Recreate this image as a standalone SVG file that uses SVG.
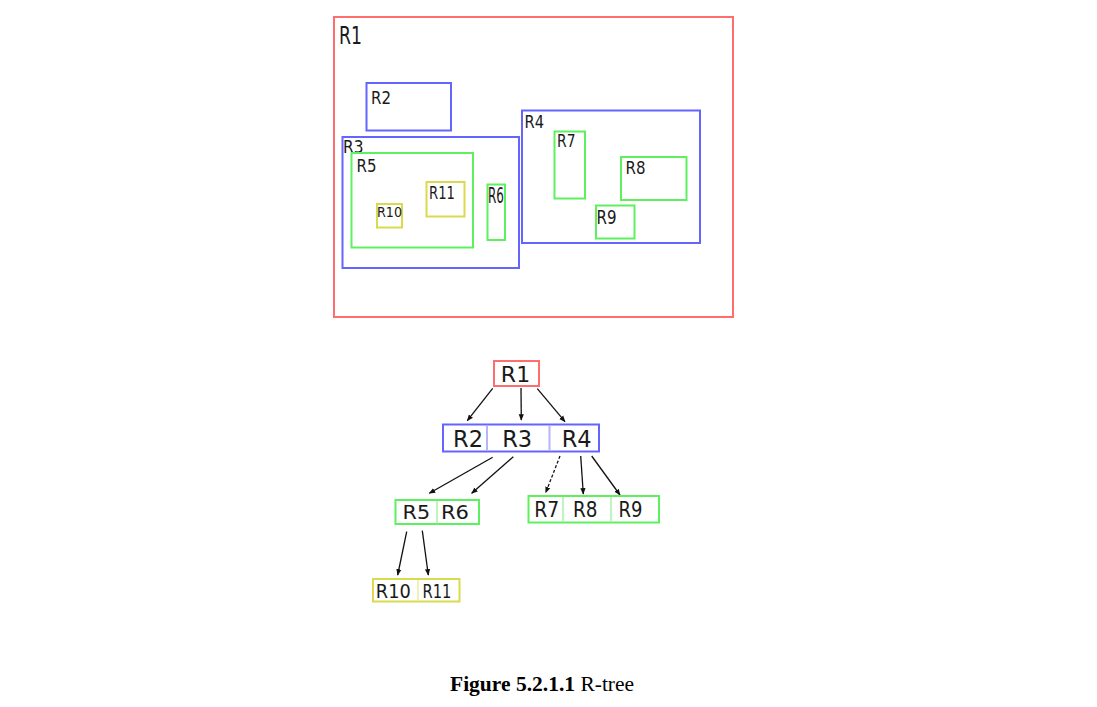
<svg xmlns="http://www.w3.org/2000/svg" width="1097" height="707" viewBox="0 0 1097 707">
<style>
.r{fill:none;stroke:#ff6e6e;stroke-width:2}
.b{fill:none;stroke:#6464ff;stroke-width:2}
.g{fill:none;stroke:#5ef05e;stroke-width:2}
.y{fill:none;stroke:#dada50;stroke-width:2}
.bd{stroke:#b4b4ff;stroke-width:2}
.gd{stroke:#a8f0a8;stroke-width:1.5}
.yd{stroke:#ecec9c;stroke-width:1.5}
text{font-family:"DejaVu Sans","Verdana",sans-serif;fill:#1a1a1a}
.t{text-anchor:middle}
.e{stroke:#111;stroke-width:1.3;fill:none;marker-end:url(#ah)}
.cap{font-family:"Liberation Serif","Times New Roman",serif;font-size:21.5px;fill:#000}
</style>
<defs>
<marker id="ah" viewBox="0 0 10 10" refX="9" refY="5" markerWidth="6.5" markerHeight="6.5" markerUnits="userSpaceOnUse" orient="auto">
<path d="M0,1 L10,5 L0,9 z" fill="#111"/>
</marker>
</defs>
<rect width="1097" height="707" fill="#fff"/>
<g id="space">
<g id="s-R1"><rect class="r" x="334" y="17" width="399" height="300"/><text x="339" y="43.5" font-size="24" textLength="23" lengthAdjust="spacingAndGlyphs">R1</text></g>
<g id="s-R2"><rect class="b" x="366.5" y="83" width="84.5" height="47.5"/><text x="371" y="104" font-size="17" textLength="20" lengthAdjust="spacingAndGlyphs">R2</text></g>
<g id="s-R3"><rect class="b" x="342.5" y="137" width="176.5" height="131"/><text x="343" y="152.7" font-size="18" textLength="20.5" lengthAdjust="spacingAndGlyphs">R3</text></g>
<g id="s-R5"><rect class="g" x="351.5" y="153" width="121.5" height="94.5"/><text x="356.5" y="171.7" font-size="18" textLength="20" lengthAdjust="spacingAndGlyphs">R5</text></g>
<g id="s-R10"><rect class="y" x="377" y="204" width="25" height="23.5"/><text x="377" y="216.7" font-size="14.5" textLength="25" lengthAdjust="spacingAndGlyphs">R10</text></g>
<g id="s-R11"><rect class="y" x="426.5" y="182" width="38" height="34.5"/><text x="429" y="199.3" font-size="18.5" textLength="26" lengthAdjust="spacingAndGlyphs">R11</text></g>
<g id="s-R6"><rect class="g" x="487.5" y="184.5" width="17.5" height="55.5"/><text x="488" y="203" font-size="21.5" textLength="16" lengthAdjust="spacingAndGlyphs">R6</text></g>
<g id="s-R4"><rect class="b" x="522" y="110.5" width="178" height="132.5"/><text x="524.5" y="128.3" font-size="18" textLength="19.5" lengthAdjust="spacingAndGlyphs">R4</text></g>
<g id="s-R7"><rect class="g" x="554.5" y="131.5" width="30.5" height="67"/><text x="557" y="146.7" font-size="18" textLength="18.5" lengthAdjust="spacingAndGlyphs">R7</text></g>
<g id="s-R8"><rect class="g" x="621" y="157" width="65.5" height="43"/><text x="625.5" y="174" font-size="18" textLength="20" lengthAdjust="spacingAndGlyphs">R8</text></g>
<g id="s-R9"><rect class="g" x="596" y="205.5" width="38.5" height="33"/><text x="596.5" y="224" font-size="19" textLength="20" lengthAdjust="spacingAndGlyphs">R9</text></g>
</g>
<g id="connectors">
<line class="e" x1="492.7" y1="388.3" x2="467.3" y2="420.7"/>
<line class="e" x1="521" y1="388" x2="521.3" y2="420"/>
<line class="e" x1="537.3" y1="388.7" x2="565" y2="421.7"/>
<line class="e" x1="492.7" y1="457.3" x2="429.3" y2="493.3"/>
<line class="e" x1="513.3" y1="456.7" x2="471.7" y2="493.3"/>
<line class="e" x1="560" y1="456" x2="545.7" y2="492.7" stroke-dasharray="3,2"/>
<line class="e" x1="580.7" y1="456" x2="583.3" y2="494"/>
<line class="e" x1="591.7" y1="456" x2="620" y2="495"/>
<line class="e" x1="406.7" y1="531.7" x2="397.7" y2="575"/>
<line class="e" x1="422.3" y1="530.7" x2="428.3" y2="575"/>
</g>
<g id="t-R1"><rect class="r" x="494" y="361" width="45" height="25"/><text class="t" x="515.5" y="381.7" font-size="22">R1</text></g>
<g id="t-L2"><rect class="b" x="443" y="424.5" width="156" height="27"/><line class="bd" x1="487" y1="425.5" x2="487" y2="450.5"/><line class="bd" x1="549.5" y1="425.5" x2="549.5" y2="450.5"/>
<text class="t" x="468" y="446.7" font-size="22.5">R2</text><text class="t" x="517.2" y="446.7" font-size="22.5">R3</text><text class="t" x="576.7" y="446.7" font-size="22.5">R4</text></g>
<g id="t-L3a"><rect class="g" x="395.5" y="500" width="83.5" height="24"/><line class="gd" x1="437" y1="501" x2="437" y2="523.3"/>
<text class="t" x="416.3" y="519.3" font-size="20" textLength="27.5" lengthAdjust="spacingAndGlyphs">R5</text><text class="t" x="455" y="519.3" font-size="20" textLength="28" lengthAdjust="spacingAndGlyphs">R6</text></g>
<g id="t-L3b"><rect class="g" x="528.5" y="496" width="130.5" height="26.5"/><line class="gd" x1="563" y1="497" x2="563" y2="521.5"/><line class="gd" x1="611" y1="497" x2="611" y2="521.5"/>
<text class="t" x="546.7" y="516.7" font-size="20.5" textLength="25" lengthAdjust="spacingAndGlyphs">R7</text><text class="t" x="585.3" y="516.7" font-size="20.5" textLength="24.5" lengthAdjust="spacingAndGlyphs">R8</text><text class="t" x="630.5" y="516.7" font-size="20.5" textLength="24" lengthAdjust="spacingAndGlyphs">R9</text></g>
<g id="t-L4"><rect class="y" x="373" y="579" width="86.5" height="22.5"/><line class="yd" x1="418" y1="580" x2="418" y2="600.5"/>
<text class="t" x="393.3" y="598.3" font-size="20" textLength="35" lengthAdjust="spacingAndGlyphs">R10</text><text class="t" x="437" y="598.3" font-size="20" textLength="29" lengthAdjust="spacingAndGlyphs">R11</text></g>
<text class="cap" x="450" y="690.5"><tspan font-weight="bold">Figure 5.2.1.1</tspan> R-tree</text>
</svg>
